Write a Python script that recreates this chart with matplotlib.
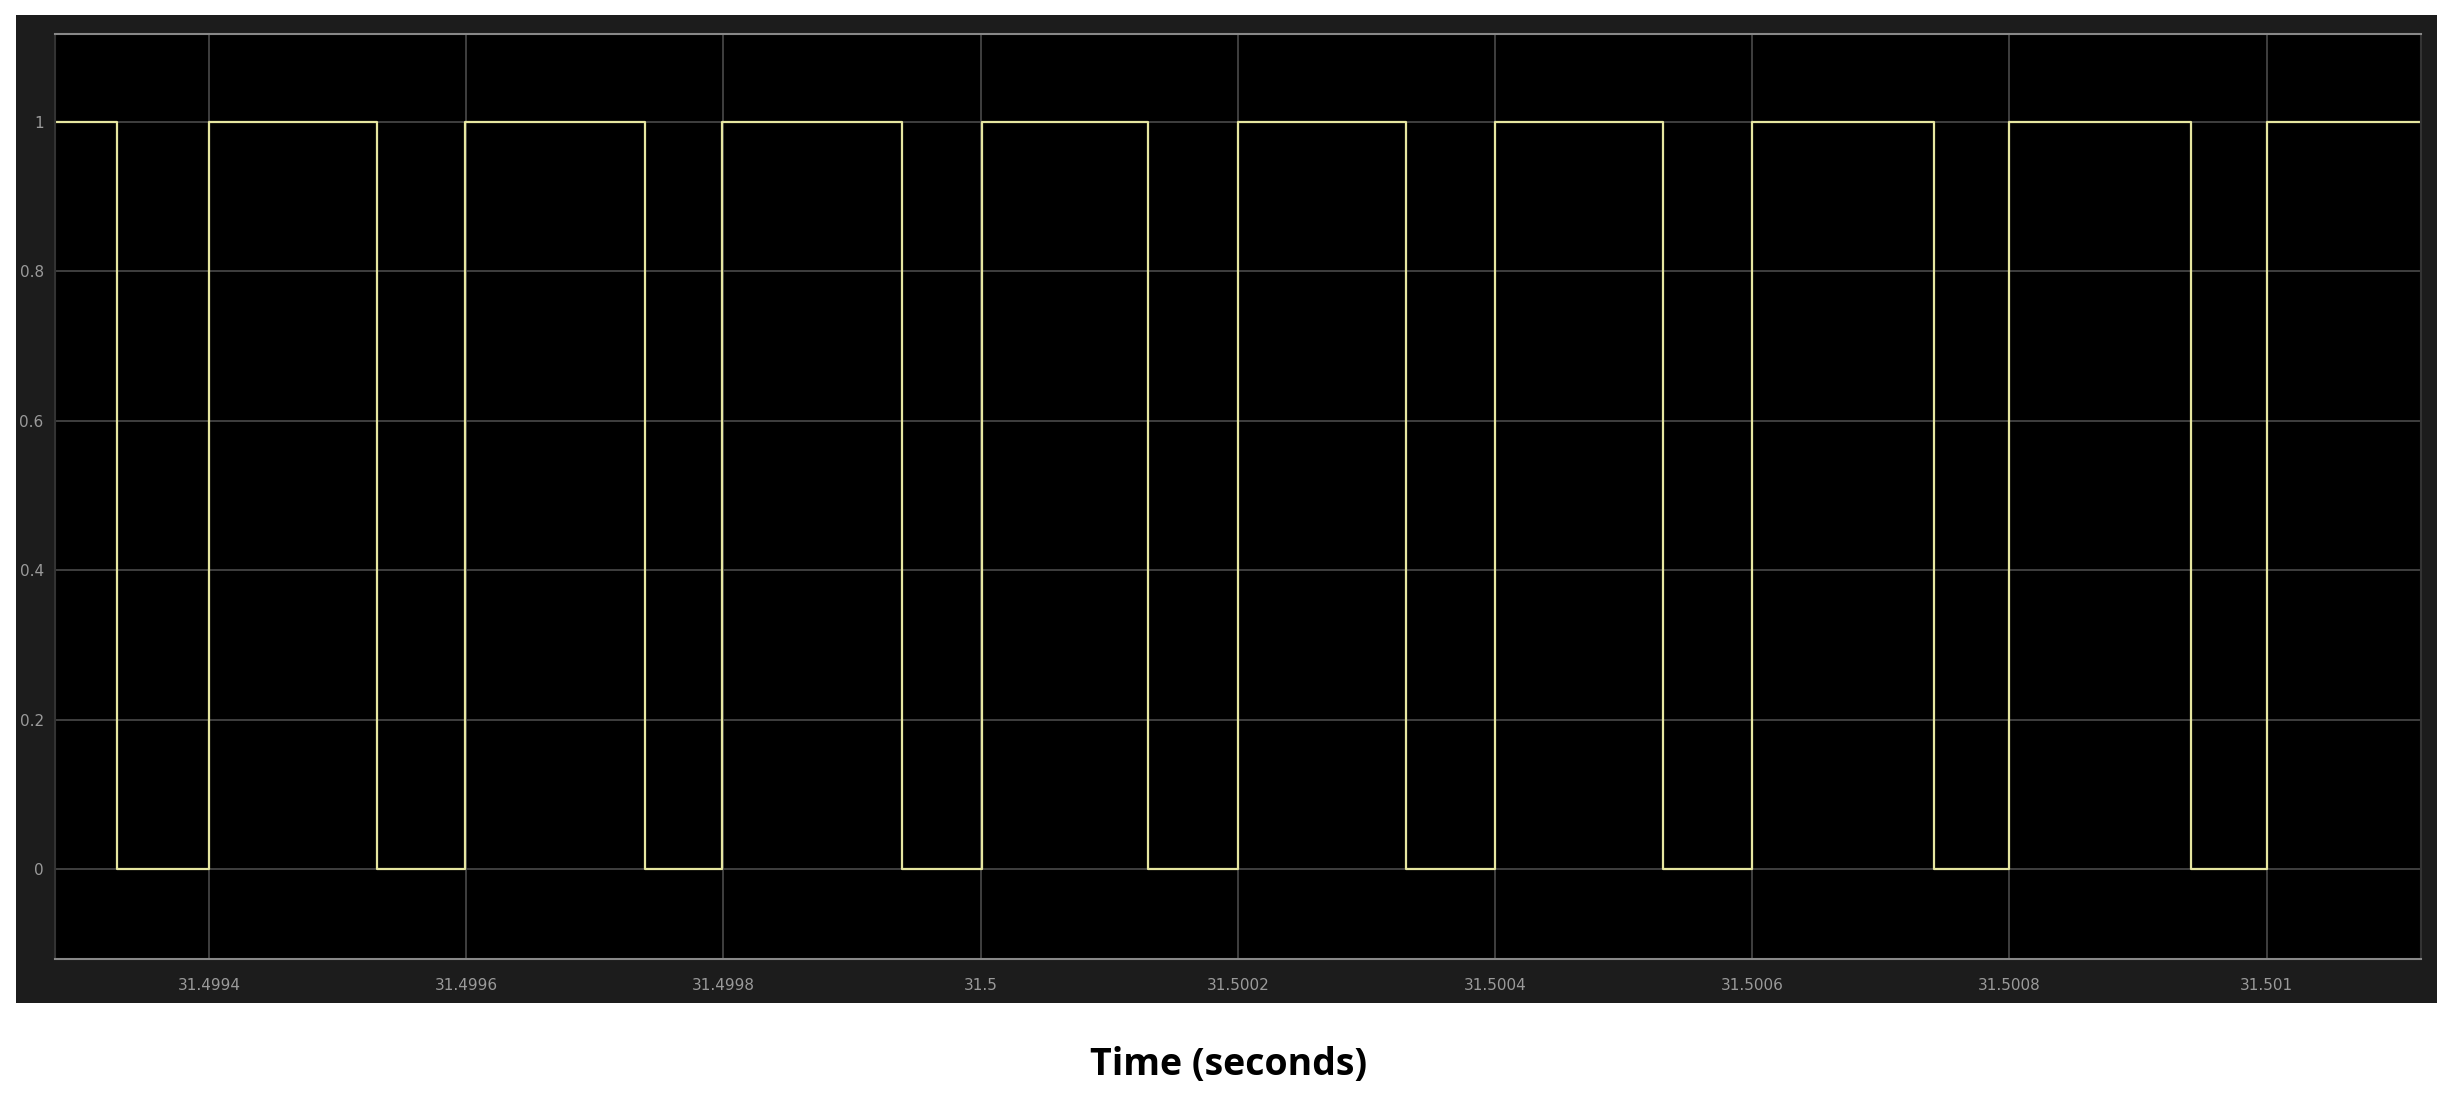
import numpy as np
import matplotlib.pyplot as plt

# edges of the square wave (seconds) and level after each edge
edge_times = [31.49928, 31.499328, 31.4994, 31.4995305, 31.4995988, 31.499739,
              31.4997988, 31.499939, 31.5000012, 31.5001305, 31.5002, 31.5003305,
              31.5004, 31.5005305, 31.5006, 31.500741, 31.5008, 31.500941,
              31.501, 31.50112]
levels = [1, 0, 1, 0, 1, 0, 1, 0, 1, 0, 1, 0, 1, 0, 1, 0, 1, 0, 1, 1]

xticks = [31.4994, 31.4996, 31.4998, 31.5, 31.5002, 31.5004, 31.5006, 31.5008, 31.501]
xtick_labels = ["31.4994", "31.4996", "31.4998", "31.5", "31.5002", "31.5004",
                "31.5006", "31.5008", "31.501"]
yticks = [0, 0.2, 0.4, 0.6, 0.8, 1]
ytick_labels = ["0", "0.2", "0.4", "0.6", "0.8", "1"]

fig = plt.figure(figsize=(24.57, 11.06), dpi=100)

# dark scope window behind the plot
bg = fig.add_axes([0.0064, 0.0935, 0.9853, 0.8925], zorder=0)
bg.set_facecolor("#1c1c1c")
bg.set_xticks([])
bg.set_yticks([])
for s in bg.spines.values():
    s.set_visible(False)

ax = fig.add_axes([0.0223, 0.133, 0.963, 0.836], zorder=1)
ax.set_facecolor("black")
ax.step(edge_times, levels, where="post", color="#e6e6a0", lw=1.6)
ax.set_xlim(31.49928, 31.50112)
ax.set_ylim(-0.12, 1.117)
ax.set_xticks(xticks)
ax.set_xticklabels(xtick_labels)
ax.set_yticks(yticks)
ax.set_yticklabels(ytick_labels)
ax.grid(True, color="#4a4a4a", lw=1.2)
ax.tick_params(colors="#9a9a9a", labelsize=11, length=0)
ax.tick_params(axis="x", pad=14)
ax.tick_params(axis="y", pad=8)
for side, s in ax.spines.items():
    s.set_color("#888888" if side in ("top", "bottom") else "#333333")
    s.set_linewidth(1.5)

fig.text(0.5, 0.037, "Time (seconds)", ha="center", va="center",
         fontsize=27, fontweight="bold", family="Open Sans")

fig.savefig("out.png", dpi=100)
